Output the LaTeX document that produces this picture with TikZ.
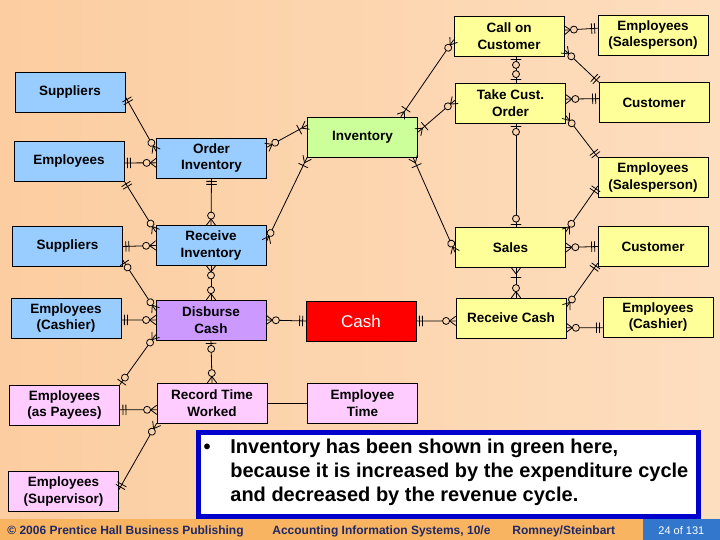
\documentclass[tikz,border=0pt]{standalone}
\usepackage{fontspec}
\setmainfont{Liberation Sans}
\usetikzlibrary{decorations.markings}
\definecolor{peachL}{RGB}{252,205,160}
\definecolor{peachR}{RGB}{253,222,191}
\definecolor{ringbg}{RGB}{252,212,172}
\definecolor{entblue}{RGB}{153,204,255}
\definecolor{entgreen}{RGB}{204,255,153}
\definecolor{entyellow}{RGB}{255,255,153}
\definecolor{entpurple}{RGB}{204,153,255}
\definecolor{entpink}{RGB}{255,204,255}
\definecolor{noteblue}{RGB}{0,0,204}
\definecolor{footorange}{RGB}{248,180,96}
\definecolor{footblue}{RGB}{51,119,204}
\definecolor{footnavy}{RGB}{31,41,102}

\newcommand\crowfoot{\draw (-6pt,0pt) -- (0pt,4.5pt) (-6pt,0pt) -- (0pt,-4.5pt);}
\newcommand\ringat[1]{\draw[fill=ringbg] (#1,0pt) circle (3.5pt);}
\newcommand\tickat[1]{\draw (#1,-5pt) -- (#1,5pt);}
\newcommand\symzm{\crowfoot\ringat{-9.5pt}}
\newcommand\symom{\crowfoot\tickat{-9pt}}
\newcommand\symone{\tickat{-3pt}\tickat{-6pt}}
\newcommand\symzo{\tickat{-3pt}\ringat{-8.5pt}}

\begin{document}
\begin{tikzpicture}[x=1pt, y=-1pt, line width=0.8pt, line cap=round,
    ent/.style={draw, minimum width=110pt, minimum height=40pt, inner sep=1pt,
      align=center, font=\bfseries\fontsize{13.5}{16.5}\selectfont},
    foot/.style={inner sep=0pt, text=footnavy, font=\bfseries\fontsize{12}{14}\selectfont},
    tailsym/.style={postaction={decorate, decoration={markings,
      mark=at position 0 with {\begin{scope}[xscale=-1]#1\end{scope}}}}},
    headsym/.style={postaction={decorate, decoration={markings,
      mark=at position 1 with {#1}}}}]
  \useasboundingbox (0,0) rectangle (720,540);
  \shade[left color=peachL, right color=peachR] (0,0) rectangle (720,519);
  \fill[footorange] (0,519) rectangle (720,540);
  \fill[footblue] (643,519) rectangle (720,540);

  \node[ent, fill=entblue] (sup1) at (70,92) {Suppliers};
  \node[ent, fill=entblue] (emp1) at (69,161) {Employees};
  \node[ent, fill=entblue] (ord) at (211.5,158) {Order\\Inventory};
  \node[ent, fill=entgreen] (inv) at (362.5,137) {Inventory};
  \node[ent, fill=entyellow] (call) at (509,36) {Call on\\Customer};
  \node[ent, fill=entyellow] (esp1) at (653,35) {Employees\\(Salesperson)};
  \node[ent, fill=entyellow] (take) at (510.5,103) {Take Cust.\\Order};
  \node[ent, fill=entyellow] (cus1) at (654,102.5) {Customer};
  \node[ent, fill=entyellow] (esp2) at (653,177.5) {Employees\\(Salesperson)};
  \node[ent, fill=entyellow] (sal) at (510.5,247.5) {Sales};
  \node[ent, fill=entyellow] (cus2) at (653,246.5) {Customer};
  \node[ent, fill=entyellow] (rcsh) at (511,318) {Receive Cash};
  \node[ent, fill=entyellow] (ecs2) at (658,317) {Employees\\(Cashier)};
  \node[ent, fill=red, text=white, font=\fontsize{17}{20}\selectfont] (cash) at (361,321) {Cash};
  \node[ent, fill=entblue] (sup2) at (67.5,246.5) {Suppliers};
  \node[ent, fill=entblue] (rinv) at (211,245.5) {Receive\\Inventory};
  \node[ent, fill=entblue] (ecs1) at (66,318) {Employees\\(Cashier)};
  \node[ent, fill=entpurple] (disb) at (211,320) {Disburse\\Cash};
  \node[ent, fill=entpink] (pay) at (64.5,405) {Employees\\(as Payees)};
  \node[ent, fill=entpink] (rtw) at (212,403) {Record Time\\Worked};
  \node[ent, fill=entpink] (etm) at (362.5,403) {Employee\\Time};
  \node[ent, fill=entpink] (supv) at (63.5,491.5) {Employees\\(Supervisor)};

  \draw[tailsym=\symone, headsym=\symzm] (sup1.-5) -- (ord.173);
  \draw[tailsym=\symone, headsym=\symzm] (emp1.-2) -- (ord.185);
  \draw[tailsym=\symone, headsym=\symzm] (emp1.south east) -- (rinv.166);
  \draw[tailsym=\symzm, headsym=\symom] (ord.11) -- (inv.168);
  \draw[tailsym=\symone, headsym=\symzm] (ord.south) -- (rinv.north);
  \draw[tailsym=\symom, headsym=\symzm] (inv.south west) -- (rinv.4);
  \draw[tailsym=\symone, headsym=\symzm] (sup2.east) -- (rinv.west);
  \draw[tailsym=\symzo, headsym=\symzm] (sup2.-14) -- (disb.170);
  \draw[tailsym=\symzm, headsym=\symzm] (rinv.south) -- (disb.north);
  \draw[tailsym=\symone, headsym=\symzm] (ecs1.-2) -- (disb.west);
  \draw[tailsym=\symzm, headsym=\symone] (disb.east) -- (cash.west);
  \draw[tailsym=\symzm, headsym=\symzo] (disb.195) -- (pay.north east);
  \draw[tailsym=\symone, headsym=\symzm] (pay.-5) -- (rtw.187);
  \draw[tailsym=\symone, headsym=\symzm] (supv.2) -- (rtw.south west);
  \draw (rtw.east) -- (etm.west);
  \draw[tailsym=\symzo, headsym=\symzm] (disb.south) -- (rtw.north);
  \draw[tailsym=\symom, headsym=\symzm] (inv.28) -- (call.184);
  \draw[tailsym=\symom, headsym=\symzm] (inv.5) -- (take.177);
  \draw[tailsym=\symom, headsym=\symzm] (inv.-22) -- (sal.185);
  \draw[tailsym=\symzm, headsym=\symone] (call.6) -- (esp1.173);
  \draw[tailsym=\symzm, headsym=\symone] (call.-14) -- (cus1.north west);
  \draw[tailsym=\symzo, headsym=\symzo] ([xshift=7pt]call.south) -- ([xshift=5.5pt]take.north);
  \draw[tailsym=\symzm, headsym=\symone] (take.4) -- (cus1.176);
  \draw[tailsym=\symzm, headsym=\symone] (take.-13) -- (esp2.north west);
  \draw[tailsym=\symzo, headsym=\symzo] ([xshift=5.5pt]take.south) -- ([xshift=5.5pt]sal.north);
  \draw[tailsym=\symzm, headsym=\symone] (sal.16) -- (esp2.189);
  \draw[tailsym=\symzm, headsym=\symone] (sal.east) -- (cus2.west);
  \draw[tailsym=\symom, headsym=\symzm] ([xshift=5.5pt]sal.south) -- ([xshift=5pt]rcsh.north);
  \draw[tailsym=\symzm, headsym=\symone] (rcsh.11) -- (cus2.197);
  \draw[tailsym=\symzm, headsym=\symone] (rcsh.-10) -- (ecs2.191);
  \draw[tailsym=\symone, headsym=\symzm] (cash.east) -- (rcsh.183);

  \node[draw=noteblue, line width=5pt, fill=white, minimum width=500pt,
    minimum height=84pt, inner sep=0pt, anchor=north west] (notebox) at (195.5,429.5) {};
  \node[inner sep=0pt, anchor=base, font=\bfseries\fontsize{20}{24}\selectfont] (dot) at (207,453) {•};
  \node[inner sep=0pt, anchor=north west, align=left,
    font=\bfseries\fontsize{20}{24}\selectfont] (note) at (230,438.5)
    {Inventory has been shown in green here,\\because it is increased by the expenditure cycle\\and decreased by the revenue cycle.};

  \node[foot, anchor=base west] (f1) at (7,534.5) {© 2006 Prentice Hall Business Publishing};
  \node[foot, anchor=base west] (f2) at (272,534.5) {Accounting Information Systems, 10/e};
  \node[foot, anchor=base west] (f3) at (512,534.5) {Romney/Steinbart};
  \node[inner sep=0pt, anchor=base west, text=white, font=\fontsize{11}{13}\selectfont] (f4) at (658,534.5) {24 of 131};
\end{tikzpicture}
\end{document}
